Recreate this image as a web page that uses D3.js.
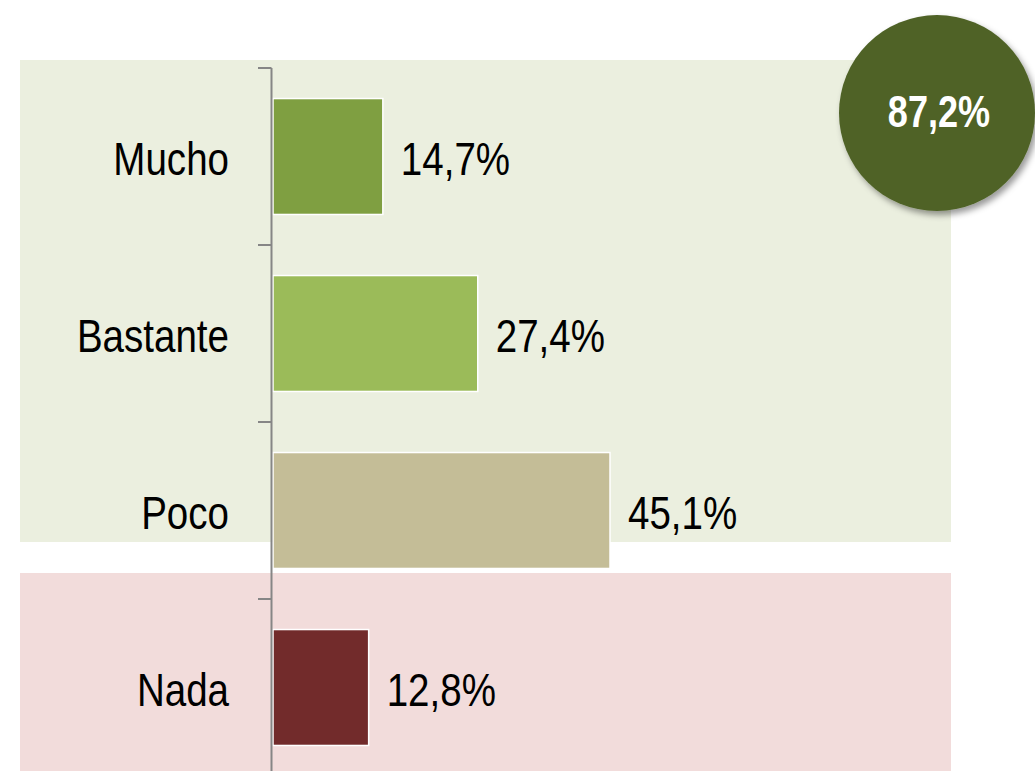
<!DOCTYPE html>
<html>
<head>
<meta charset="utf-8">
<script src="https://cdn.jsdelivr.net/npm/d3@7"></script>
<style>
  body { margin: 0; background: #fff; }
  text { font-family: "Liberation Sans Narrow", "Arial Narrow", "Liberation Sans", Arial, sans-serif; }
</style>
</head>
<body>
<svg id="chart" width="1035" height="771"></svg>
<script>
var categories = ['Mucho', 'Bastante', 'Poco', 'Nada'];
var values = [14.7, 27.4, 45.1, 12.8];
var barColors = ['#7f9f41', '#9bbb59', '#c4bd97', '#722b2b'];
var totalLabel = '87,2%';

var narrow = 0.82; // no condensed font installed, squeeze the regular one

var svg = d3.select('#chart');

var xScale = d3.scaleLinear().domain([0, 45.1]).range([273, 610]);
var yScale = d3.scaleBand()
  .domain(categories)
  .range([68, 776])
  .paddingInner(0.345)
  .paddingOuter(0.1725);

function fmt(v){ return v.toFixed(1).replace('.', ',') + '%'; }
function place(x, y){ return 'translate(' + x + ',' + y + ') scale(' + narrow + ',1)'; }

// background panels
svg.append('rect')
  .attr('x', 20).attr('y', 60)
  .attr('width', 931).attr('height', 482)
  .attr('fill', '#ebefdf');
svg.append('rect')
  .attr('x', 20).attr('y', 573)
  .attr('width', 931).attr('height', 198)
  .attr('fill', '#f2dcdb');

// bars
svg.selectAll('rect.bar')
  .data(values)
  .enter().append('rect')
  .attr('class', 'bar')
  .attr('x', xScale(0))
  .attr('y', function(d, i){ return yScale(categories[i]); })
  .attr('width', function(d){ return xScale(d) - xScale(0); })
  .attr('height', yScale.bandwidth())
  .attr('fill', function(d, i){ return barColors[i]; })
  .attr('stroke', '#fff')
  .attr('stroke-width', 1.5);

// value labels
svg.selectAll('text.val')
  .data(values)
  .enter().append('text')
  .attr('class', 'val')
  .attr('transform', function(d, i){
    return place(xScale(d) + 18, yScale(categories[i]) + yScale.bandwidth() / 2 + 18);
  })
  .attr('font-size', 47)
  .attr('fill', '#000')
  .text(fmt);

// axis
var step = yScale.step();
var tickPos = categories.map(function(c){ return yScale(c) - yScale.paddingOuter() * step; });
var axisG = svg.append('g');
axisG.append('line')
  .attr('x1', 271.5).attr('x2', 271.5)
  .attr('y1', tickPos[0]).attr('y2', 771)
  .attr('stroke', '#868686').attr('stroke-width', 2);
axisG.selectAll('line.tick')
  .data(tickPos)
  .enter().append('line')
  .attr('class', 'tick')
  .attr('x1', 258).attr('x2', 271.5)
  .attr('y1', function(d){ return d; })
  .attr('y2', function(d){ return d; })
  .attr('stroke', '#868686').attr('stroke-width', 2);

// category labels
svg.selectAll('text.cat')
  .data(categories)
  .enter().append('text')
  .attr('class', 'cat')
  .attr('transform', function(d){
    return place(229, yScale(d) + yScale.bandwidth() / 2 + 18);
  })
  .attr('text-anchor', 'end')
  .attr('font-size', 47)
  .attr('fill', '#000')
  .text(function(d){ return d; });

// total circle
var defs = svg.append('defs');
var f = defs.append('filter').attr('id', 'shadow')
  .attr('x', '-20%').attr('y', '-20%').attr('width', '150%').attr('height', '150%');
f.append('feDropShadow')
  .attr('dx', 3).attr('dy', 4).attr('stdDeviation', 3)
  .attr('flood-color', '#000').attr('flood-opacity', 0.4);

svg.append('circle')
  .attr('cx', 937).attr('cy', 113).attr('r', 98)
  .attr('fill', '#4f6228')
  .attr('filter', 'url(#shadow)');
svg.append('text')
  .attr('transform', place(939, 127))
  .attr('text-anchor', 'middle')
  .attr('font-size', 44)
  .attr('font-weight', 'bold')
  .attr('fill', '#fff')
  .text(totalLabel);
</script>
</body>
</html>
